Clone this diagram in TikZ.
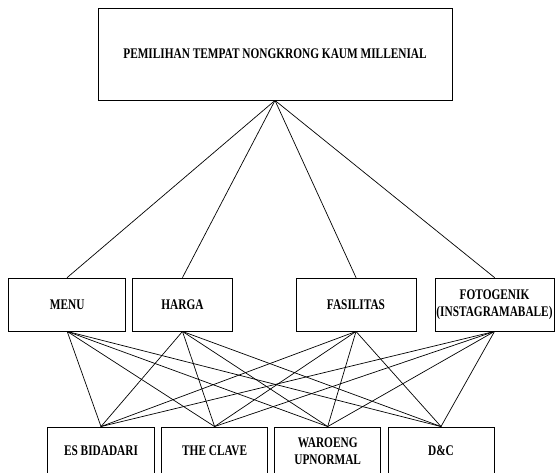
\documentclass[tikz,border=0pt]{standalone}
\usepackage{fontspec}
\setmainfont{Liberation Serif}
\newfontfamily\boxfont{Liberation Serif}[FakeStretch=0.77]
\usepackage{tikz}

\begin{document}
\begin{tikzpicture}[x=1pt,y=-1pt,line cap=round,
  box/.style={draw,line width=0.9pt,inner sep=0pt,align=center,minimum height=53pt,
    font=\fontsize{14.7}{16.5}\boxfont\bfseries},
  item/.style={box,minimum height=48pt,minimum width=106pt},
  link/.style={line width=0.7pt}]
\useasboundingbox (0,0) rectangle (557,473);
\node[box,minimum width=354pt,minimum height=92pt] (goal) at (275,54) {PEMILIHAN TEMPAT NONGKRONG KAUM MILLENIAL};
\node[box,minimum width=117pt] (menu) at (67.2,304.5) {MENU};
\node[box,minimum width=100pt] (harga) at (182.5,304.5) {HARGA};
\node[box,minimum width=120pt] (fasilitas) at (356,304.5) {FASILITAS};
\node[box,minimum width=119pt] (foto) at (494.5,304.5) {FOTOGENIK\\(INSTAGRAMABALE)};
\node[item,minimum width=107pt] (es) at (101,451) {ES BIDADARI};
\node[item] (clave) at (214.6,451) {THE CLAVE};
\node[item] (waroeng) at (327.7,451) {WAROENG\\UPNORMAL};
\node[item] (dc) at (441,451) {D\&C};
\foreach \k in {menu,harga,fasilitas,foto}{
  \draw[link] (goal.south) -- (\k.north);
  \foreach \a in {es,clave,waroeng,dc}
    \draw[link] (\k.south) -- (\a.north);
}
\end{tikzpicture}
\end{document}
